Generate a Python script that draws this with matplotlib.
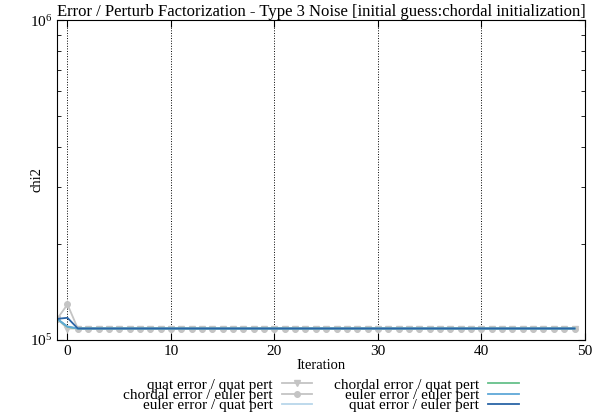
import numpy as np
import matplotlib
matplotlib.use("Agg")
import matplotlib.pyplot as plt
from matplotlib.ticker import LogLocator, NullFormatter, FixedLocator

plt.rcParams["font.family"] = "Liberation Serif"
plt.rcParams["mathtext.fontset"] = "stix"

iters = np.arange(-1, 50)
n_tail = 49  # iterations 1..49 are flat
final = 1.085e5

# chi2 per series (iteration -1, 0, then flat)
quat_quat = [1.163e5, 1.085e5] + [final] * n_tail
chordal_euler = [1.163e5, 1.29e5] + [final] * n_tail
euler_quat = [1.163e5, 1.10e5] + [final] * n_tail
chordal_quat = [1.163e5, 1.098e5] + [final] * n_tail
euler_euler = [1.163e5, 1.10e5] + [final] * n_tail
quat_euler = [1.163e5, 1.172e5] + [final] * n_tail

series = [
    ("quat error / quat pert", quat_quat, "#c4c4c4", "v"),
    ("chordal error / euler pert", chordal_euler, "#c4c4c4", "o"),
    ("euler error / quat pert", euler_quat, "#b9d7ea", None),
    ("chordal error / quat pert", chordal_quat, "#66c08a", None),
    ("euler error / euler pert", euler_euler, "#5fa8d8", None),
    ("quat error / euler pert", quat_euler, "#2a64a6", None),
]

fig = plt.figure(figsize=(5.95, 4.18), dpi=100)
ax = fig.add_axes([0.096, 0.187, 0.887, 0.765])

for label, vals, col, mk in series:
    ax.plot(iters, vals, color=col, lw=1.3, marker=mk, markersize=4,
            label=label)

ax.set_yscale("log")
ax.set_ylim(1e5, 1e6)
ax.set_xlim(-1, 50)
ax.xaxis.set_major_locator(FixedLocator([0, 10, 20, 30, 40, 50]))
ax.yaxis.set_major_locator(LogLocator(base=10))
ax.yaxis.set_minor_locator(LogLocator(base=10, subs=np.arange(2, 10)))
ax.yaxis.set_minor_formatter(NullFormatter())
ax.tick_params(direction="in", which="both", top=True, right=True,
               labelsize=11)
ax.tick_params(which="major", length=5)
ax.tick_params(which="minor", length=3)
for x in [0, 10, 20, 30, 40]:
    ax.axvline(x, color="black", ls=":", lw=0.7, zorder=0)

ax.set_title("Error / Perturb Factorization - Type 3 Noise [initial guess:chordal initialization]",
             fontsize=12, pad=3)
ax.set_xlabel("Iteration", fontsize=10.5, labelpad=1)
ax.set_ylabel("chi2", fontsize=10.5)
ax.yaxis.set_label_coords(-0.025, 0.5)

leg = ax.legend(loc="upper center", bbox_to_anchor=(0.5, -0.095), ncol=2,
                frameon=False, markerfirst=False, fontsize=11,
                labelspacing=-0.22, columnspacing=1.4, handlelength=2.0,
                handletextpad=0.6, borderpad=0)
for vp in leg._legend_handle_box.get_children():
    vp.align = "right"

fig.savefig("out.png", dpi=100)
